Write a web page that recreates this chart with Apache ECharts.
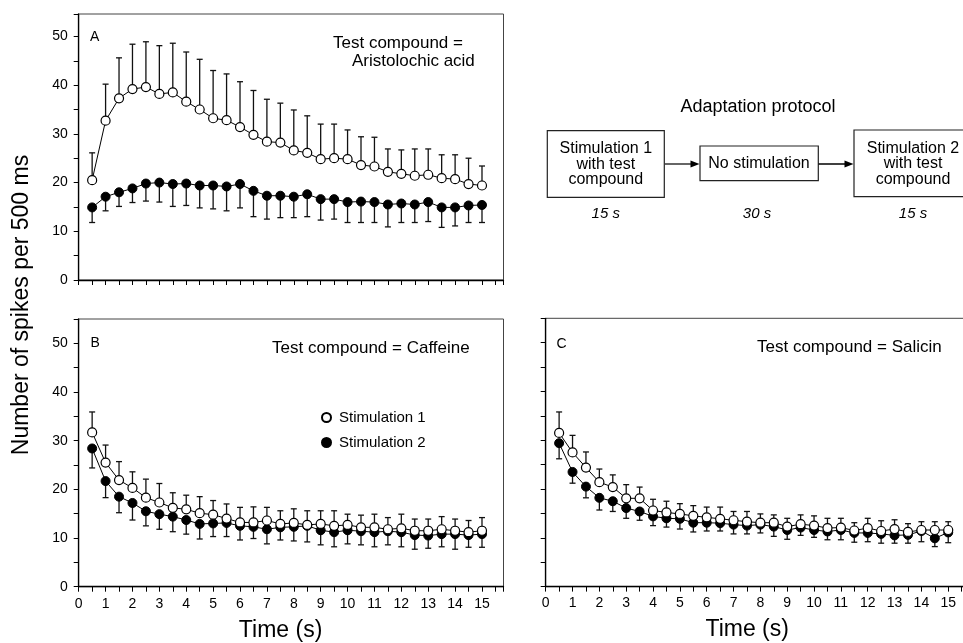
<!DOCTYPE html>
<html>
<head>
<meta charset="utf-8">
<script src="https://cdn.jsdelivr.net/npm/echarts@6/dist/echarts.min.js"></script>
<style>
  html, body { margin: 0; padding: 0; background: #fff; }
  #main { width: 963px; height: 643px; }
</style>
</head>
<body>
<div id="main"></div>
<script>
// time points (s)
var time = [0.5, 1, 1.5, 2, 2.5, 3, 3.5, 4, 4.5, 5, 5.5, 6, 6.5, 7, 7.5, 8, 8.5, 9, 9.5, 10,
            10.5, 11, 11.5, 12, 12.5, 13, 13.5, 14, 14.5, 15];

// panel A - aristolochic acid
var aStim1   = [20.5, 32.7, 37.3, 39.2, 39.6, 38.2, 38.5, 36.6, 35.0, 33.2, 32.8, 31.4, 29.8, 28.4, 28.2,
                26.6, 26.1, 24.8, 25.0, 24.8, 23.6, 23.3, 22.2, 21.8, 21.4, 21.6, 20.9, 20.7, 19.7, 19.4];
var aStim1Hi = [26.1, 40.2, 45.6, 48.4, 48.9, 48.1, 48.6, 46.8, 45.3, 43.0, 42.3, 40.7, 38.9, 37.1, 36.3,
                34.9, 33.7, 32.0, 32.0, 30.8, 29.4, 29.3, 26.9, 26.7, 26.9, 26.9, 25.7, 25.7, 25.0, 23.4];
var aStim2   = [14.9, 17.1, 18.0, 18.8, 19.8, 20.0, 19.7, 19.8, 19.4, 19.4, 19.2, 19.7, 18.3, 17.3, 17.3,
                17.1, 17.6, 16.6, 16.6, 16.0, 16.1, 16.0, 15.5, 15.7, 15.5, 16.0, 14.9, 14.9, 15.3, 15.4];
var aStim2Lo = [11.8, 14.2, 15.1, 15.9, 16.2, 16.0, 15.1, 15.3, 14.8, 14.6, 14.2, 14.8, 13.0, 12.5, 12.8,
                12.8, 13.0, 12.3, 12.5, 11.8, 11.8, 11.8, 10.9, 11.8, 11.8, 12.0, 10.8, 11.1, 11.8, 11.8];

// panel B - caffeine
var bStim1   = [31.7, 25.5, 21.9, 20.3, 18.3, 17.3, 16.2, 15.9, 15.1, 14.8, 14.0, 13.2, 13.2, 13.6, 12.9,
                13.1, 12.7, 12.9, 12.5, 12.7, 12.2, 12.2, 11.8, 12.0, 11.5, 11.5, 11.8, 11.5, 11.2, 11.5];
var bStim1Hi = [35.9, 29.1, 25.7, 23.6, 22.1, 21.2, 19.3, 18.8, 18.5, 17.7, 17.0, 16.3, 16.4, 16.3, 15.6,
                16.0, 15.6, 15.6, 15.6, 14.9, 14.7, 14.9, 14.2, 14.9, 13.9, 13.9, 14.4, 13.9, 13.6, 14.2];
var bStim2   = [28.4, 21.7, 18.5, 17.2, 15.5, 14.9, 14.4, 13.7, 12.9, 13.0, 13.1, 12.5, 12.3, 11.8, 12.2,
                12.3, 12.5, 11.6, 11.2, 11.6, 11.4, 11.2, 11.4, 11.2, 10.6, 10.5, 10.8, 10.8, 10.6, 10.8];
var bStim2Lo = [24.4, 18.3, 15.2, 13.7, 12.5, 11.8, 11.3, 10.8, 9.8, 10.3, 10.3, 9.6, 9.9, 8.8, 9.6,
                9.4, 9.2, 8.6, 8.2, 8.8, 8.6, 8.2, 8.6, 8.2, 7.7, 7.9, 8.2, 7.7, 8.1, 8.1];

// panel C - salicin
var cStim1   = [31.5, 27.5, 24.4, 21.4, 20.4, 18.1, 18.1, 15.6, 15.2, 14.9, 14.5, 14.2, 13.9, 13.6, 13.3,
                13.1, 13.1, 12.3, 12.8, 12.5, 12.0, 12.1, 11.5, 12.0, 11.4, 11.8, 11.2, 11.6, 11.6, 11.6];
var cStim1Hi = [35.8, 31.0, 27.6, 24.1, 22.9, 20.9, 20.4, 17.9, 17.5, 17.0, 16.6, 16.3, 16.3, 15.4, 15.4,
                14.9, 14.7, 14.0, 14.7, 14.5, 14.0, 14.0, 13.1, 14.0, 13.5, 13.7, 12.9, 13.3, 13.3, 13.3];
var cStim2   = [29.4, 23.5, 20.5, 18.2, 17.5, 16.1, 15.4, 14.4, 14.0, 13.9, 13.1, 13.1, 13.0, 12.7, 12.5,
                12.7, 12.3, 11.6, 12.1, 11.6, 11.3, 11.6, 11.0, 11.0, 10.8, 10.5, 10.6, 11.4, 9.9, 11.1];
var cStim2Lo = [26.2, 21.2, 18.2, 15.7, 15.4, 14.0, 13.6, 12.5, 12.2, 11.8, 11.2, 11.4, 11.4, 10.8, 10.8,
                11.0, 10.3, 9.7, 10.5, 10.1, 9.6, 9.6, 9.1, 9.2, 8.9, 8.9, 8.9, 9.2, 8.2, 9.0];

var FONT = 'Liberation Sans';

var myChart = echarts.init(document.getElementById('main'));

function pairs(ys) {
    return time.map(function (t, i) { return [t, ys[i]]; });
}

function xAxisFor(gi, showLabels) {
    return {
        type: 'value', gridIndex: gi, min: 0, max: 15.8, interval: 0.5,
        splitLine: { show: false },
        axisLine: { lineStyle: { color: '#000', width: 1.3 } },
        axisTick: { length: 5, lineStyle: { color: '#000' } },
        axisLabel: {
            show: showLabels, color: '#000', fontFamily: FONT, fontSize: 14, margin: 10,
            formatter: function (v) { return Number.isInteger(v) ? v : ''; }
        },
        name: showLabels ? 'Time (s)' : '',
        nameLocation: 'middle', nameGap: 32,
        nameTextStyle: { color: '#000', fontFamily: FONT, fontSize: 23, padding: [0, 21, 0, 0] }
    };
}

function yAxisFor(gi, max, showLabels) {
    return {
        type: 'value', gridIndex: gi, min: 0, max: max, interval: 5,
        splitLine: { show: false },
        axisLine: { lineStyle: { color: '#000', width: 1.3 } },
        axisTick: { length: 5, lineStyle: { color: '#000' } },
        axisLabel: {
            show: showLabels, color: '#000', fontFamily: FONT, fontSize: 14, margin: 11,
            formatter: function (v) { return v % 10 === 0 ? v : ''; }
        }
    };
}

// error bar: vertical line from mean to the end value, with a small cap
function errBars(gi, means, ends) {
    var data = time.map(function (t, i) { return [t, means[i], ends[i]]; });
    return {
        type: 'custom', xAxisIndex: gi, yAxisIndex: gi, z: 1, silent: true,
        data: data,
        renderItem: function (params, api) {
            var p1 = api.coord([api.value(0), api.value(1)]);
            var p2 = api.coord([api.value(0), api.value(2)]);
            var st = { stroke: '#111', lineWidth: 1.3 };
            return {
                type: 'group',
                children: [
                    { type: 'line', shape: { x1: p1[0], y1: p1[1], x2: p2[0], y2: p2[1] }, style: st },
                    { type: 'line', shape: { x1: p2[0] - 3, y1: p2[1], x2: p2[0] + 3, y2: p2[1] }, style: st }
                ]
            };
        }
    };
}

function lineSeries(gi, name, ys, open) {
    return {
        type: 'line', name: name, xAxisIndex: gi, yAxisIndex: gi, z: open ? 4 : 3,
        data: pairs(ys),
        symbol: 'circle', symbolSize: 9,
        lineStyle: { color: '#000', width: 1 },
        itemStyle: open ? { color: '#fff', borderColor: '#000', borderWidth: 1.2 }
                        : { color: '#000', borderColor: '#000', borderWidth: 1 }
    };
}

function txt(x, y, s, size, extra) {
    var style = { text: s, fill: '#000', fontFamily: FONT, fontSize: size, textVerticalAlign: 'middle' };
    for (var k in extra) style[k] = extra[k];
    return { type: 'text', x: x, y: y, style: style, silent: true };
}

var boxStyle = { fill: '#fff', stroke: '#222', lineWidth: 1.2 };

var option = {
    animation: false,
    backgroundColor: '#fff',
    grid: [
        { left: 78.7, top: 14, width: 424.8, height: 266, show: true, borderColor: '#444', borderWidth: 1, outerBoundsMode: 'none' },
        { left: 78.7, top: 319, width: 424.8, height: 267.7, show: true, borderColor: '#444', borderWidth: 1, outerBoundsMode: 'none' },
        { left: 545.7, top: 318.3, width: 424, height: 268.3, show: true, borderColor: '#444', borderWidth: 1, outerBoundsMode: 'none' }
    ],
    xAxis: [xAxisFor(0, false), xAxisFor(1, true), xAxisFor(2, true)],
    yAxis: [yAxisFor(0, 54.6, true), yAxisFor(1, 55, true), yAxisFor(2, 55, false)],
    legend: {
        orient: 'vertical', left: 316, top: 405, itemWidth: 9, itemHeight: 9, itemGap: 10,
        selectedMode: false,
        textStyle: { color: '#000', fontFamily: FONT, fontSize: 15, padding: [0, 0, 0, 3] },
        data: [{ name: 'Stimulation 1', icon: 'circle' }, { name: 'Stimulation 2', icon: 'circle' }]
    },
    series: [
        errBars(0, aStim1, aStim1Hi), errBars(0, aStim2, aStim2Lo),
        lineSeries(0, 'Stimulation 2', aStim2, false), lineSeries(0, 'Stimulation 1', aStim1, true),
        errBars(1, bStim1, bStim1Hi), errBars(1, bStim2, bStim2Lo),
        lineSeries(1, 'Stimulation 2', bStim2, false), lineSeries(1, 'Stimulation 1', bStim1, true),
        errBars(2, cStim1, cStim1Hi), errBars(2, cStim2, cStim2Lo),
        lineSeries(2, 'Stimulation 2', cStim2, false), lineSeries(2, 'Stimulation 1', cStim1, true)
    ],
    graphic: [
        // y axis title
        {
            type: 'text', x: 22, y: 305, rotation: Math.PI / 2, silent: true,
            style: { text: 'Number of spikes per 500 ms', fill: '#000', fontFamily: FONT, fontSize: 23,
                     textAlign: 'center', textVerticalAlign: 'middle' }
        },
        // panel labels and annotations
        txt(90, 37.5, 'A', 14),
        txt(333, 43, 'Test compound =', 17),
        txt(352, 61.5, 'Aristolochic acid', 17),
        txt(90.5, 343.5, 'B', 14),
        txt(272, 348, 'Test compound = Caffeine', 17),
        txt(556.5, 344.5, 'C', 14),
        txt(757, 347, 'Test compound = Salicin', 17),

        // adaptation protocol diagram
        txt(758, 107, 'Adaptation protocol', 18, { textAlign: 'center' }),
        { type: 'rect', shape: { x: 547.3, y: 130.7, width: 117, height: 66.6 }, style: boxStyle, silent: true },
        { type: 'rect', shape: { x: 700, y: 146, width: 118.3, height: 34.7 }, style: boxStyle, silent: true },
        { type: 'rect', shape: { x: 854, y: 130, width: 117, height: 66.7 }, style: boxStyle, silent: true },
        txt(605.8, 149, 'Stimulation 1', 16, { textAlign: 'center' }),
        txt(605.8, 164.5, 'with test', 16, { textAlign: 'center' }),
        txt(605.8, 180, 'compound', 16, { textAlign: 'center' }),
        txt(759, 164, 'No stimulation', 16, { textAlign: 'center' }),
        txt(913, 148.5, 'Stimulation 2', 16, { textAlign: 'center' }),
        txt(913, 164, 'with test', 16, { textAlign: 'center' }),
        txt(913, 179.5, 'compound', 16, { textAlign: 'center' }),
        { type: 'line', shape: { x1: 665, y1: 164, x2: 693, y2: 164 }, style: { stroke: '#000', lineWidth: 1.2 }, silent: true },
        { type: 'polygon', shape: { points: [[699.5, 164], [690.5, 160.5], [690.5, 167.5]] }, style: { fill: '#000' }, silent: true },
        { type: 'line', shape: { x1: 818.5, y1: 164, x2: 847, y2: 164 }, style: { stroke: '#000', lineWidth: 1.5 }, silent: true },
        { type: 'polygon', shape: { points: [[853.5, 164], [844.5, 160.5], [844.5, 167.5]] }, style: { fill: '#000' }, silent: true },
        txt(605.8, 214, '15 s', 15, { textAlign: 'center', fontStyle: 'italic' }),
        txt(757, 214, '30 s', 15, { textAlign: 'center', fontStyle: 'italic' }),
        txt(913, 214, '15 s', 15, { textAlign: 'center', fontStyle: 'italic' })
    ]
};

myChart.setOption(option);
</script>
</body>
</html>
